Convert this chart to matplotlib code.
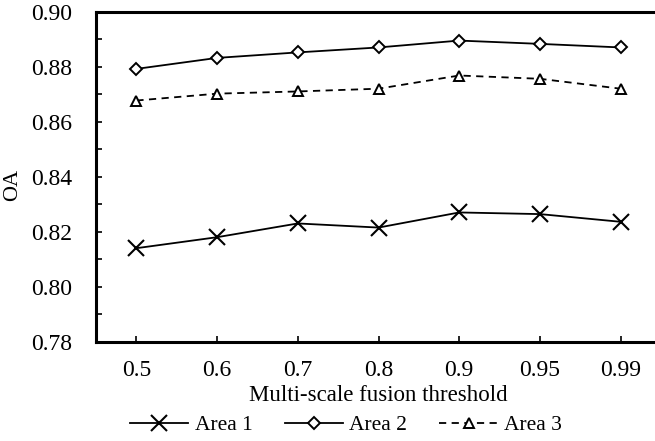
import matplotlib
matplotlib.use("Agg")
import matplotlib.pyplot as plt
from matplotlib.ticker import MultipleLocator
import numpy as np

thresholds = ["0.5", "0.6", "0.7", "0.8", "0.9", "0.95", "0.99"]
area1 = [0.814, 0.818, 0.823, 0.8215, 0.827, 0.8264, 0.8236]
area2 = [0.8792, 0.8832, 0.8852, 0.8870, 0.8895, 0.8883, 0.8870]
area3 = [0.8677, 0.8702, 0.8710, 0.8720, 0.8768, 0.8756, 0.8720]
series_names = ["Area 1", "Area 2", "Area 3"]

plt.rcParams['font.family'] = ['Liberation Serif', 'DejaVu Serif']

W, H = 655, 441
fig = plt.figure(figsize=(W / 100, H / 100), dpi=100)
left, right, top, bottom = 96, 661, 11.7, 341.7
ax = fig.add_axes([left / W, 1 - bottom / H, (right - left) / W, (bottom - top) / H])

x = np.arange(len(thresholds))
ax.plot(x, area1, color='black', lw=1.3, marker='x', ms=11, mew=1.5, label=series_names[0])
ax.plot(x, area2, color='black', lw=1.3, marker='D', ms=6, mfc='white', mew=1.4, label=series_names[1])
ax.plot(x, area3, color='black', lw=1.3, ls=(0, (4, 3)), marker='^', ms=7, mfc='white', mew=1.4,
        label=series_names[2])

ax.set_xlim(-0.5, len(thresholds) - 0.5)
ax.set_ylim(0.78, 0.90)
ax.set_xticks(x)
ax.set_xticklabels(thresholds)
ax.yaxis.set_major_locator(MultipleLocator(0.02))
ax.yaxis.set_minor_locator(MultipleLocator(0.01))
ax.yaxis.set_major_formatter(matplotlib.ticker.FormatStrFormatter('%.2f'))

for s in ax.spines.values():
    s.set_linewidth(2.2)
ax.spines['right'].set_visible(False)
ax.tick_params(axis='both', which='both', direction='in', length=4, width=1.2, labelsize=17)
ax.tick_params(axis='y', pad=17)
ax.tick_params(axis='x', pad=13)
ax.tick_params(axis='x', which='minor', bottom=False)

ax.set_xlabel("Multi-scale fusion threshold", fontsize=16.5, labelpad=3)
fig.text(13 / W, 1 - 185 / H, "OA", rotation=90, fontsize=16, ha='center', va='center')

fig.legend(loc='center', bbox_to_anchor=(346 / W, 1 - 425 / H), ncol=3, frameon=False,
           fontsize=15.5, handlelength=2.7, handletextpad=0.3, columnspacing=1.5,
           borderpad=0, borderaxespad=0)

fig.savefig("out.png", dpi=100)
